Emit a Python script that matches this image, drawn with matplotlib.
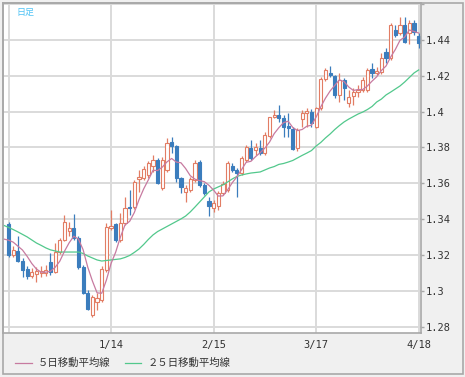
import numpy as np
import matplotlib
matplotlib.use("Agg")
import matplotlib.pyplot as plt
from matplotlib.lines import Line2D
from matplotlib.patches import Rectangle

plt.rcParams['font.family'] = ['DejaVu Sans', 'Noto Sans CJK JP']

# daily candles, oldest first
opens = [1.3374, 1.3202, 1.3224, 1.3169, 1.3124, 1.3085, 1.3096, 1.3102, 1.3102, 1.3163,
         1.3107, 1.3219, 1.3285, 1.3335, 1.3352, 1.3296, 1.3135, 1.2991, 1.2868, 1.2940,
         1.2952, 1.3118, 1.3352, 1.3374, 1.3285, 1.3380, 1.3470, 1.3468, 1.3624, 1.3630,
         1.3647, 1.3697, 1.3730, 1.3574, 1.3674, 1.3830, 1.3808, 1.3630, 1.3554, 1.3563,
         1.3619, 1.3719, 1.3591, 1.3502, 1.3463, 1.3476, 1.3547, 1.3563, 1.3697, 1.3674,
         1.3658, 1.3730, 1.3797, 1.3786, 1.3797, 1.3769, 1.3863, 1.3969, 1.3980, 1.3963,
         1.3919, 1.3902, 1.3797, 1.3958, 1.3993, 1.3997, 1.3913, 1.4019, 1.4180, 1.4215,
         1.4197, 1.4091, 1.4175, 1.4047, 1.4086, 1.4110, 1.4119, 1.4119, 1.4236, 1.4214,
         1.4219, 1.4331, 1.4297, 1.4453, 1.4436, 1.4481, 1.4436, 1.4492, 1.4420]
highs = [1.3385, 1.3252, 1.3307, 1.3185, 1.3141, 1.3130, 1.3135, 1.3141, 1.3146, 1.3213,
         1.3269, 1.3296, 1.3424, 1.3385, 1.3430, 1.3307, 1.3146, 1.3007, 1.2979, 1.2991,
         1.3141, 1.3380, 1.3452, 1.3380, 1.3435, 1.3524, 1.3563, 1.3619, 1.3674, 1.3697,
         1.3724, 1.3758, 1.3741, 1.3747, 1.3852, 1.3858, 1.3813, 1.3636, 1.3591, 1.3636,
         1.3730, 1.3730, 1.3602, 1.3524, 1.3508, 1.3558, 1.3613, 1.3724, 1.3713, 1.3686,
         1.3752, 1.3813, 1.3841, 1.3825, 1.3841, 1.3886, 1.3969, 1.4008, 1.4036, 1.3980,
         1.3991, 1.3913, 1.3908, 1.4008, 1.4019, 1.4014, 1.4025, 1.4191, 1.4241, 1.4253,
         1.4203, 1.4214, 1.4186, 1.4119, 1.4130, 1.4147, 1.4191, 1.4241, 1.4269, 1.4247,
         1.4325, 1.4353, 1.4492, 1.4481, 1.4525, 1.4525, 1.4508, 1.4508, 1.4436]
lows = [1.3191, 1.3191, 1.3163, 1.3080, 1.3069, 1.3074, 1.3052, 1.3080, 1.3085, 1.3091,
        1.3102, 1.3207, 1.3280, 1.3307, 1.3285, 1.3124, 1.2985, 1.2896, 1.2857, 1.2896,
        1.2940, 1.3107, 1.3341, 1.3274, 1.3274, 1.3369, 1.3424, 1.3457, 1.3552, 1.3619,
        1.3630, 1.3663, 1.3597, 1.3563, 1.3663, 1.3769, 1.3608, 1.3547, 1.3498, 1.3552,
        1.3608, 1.3580, 1.3535, 1.3419, 1.3441, 1.3452, 1.3535, 1.3552, 1.3663, 1.3524,
        1.3647, 1.3719, 1.3730, 1.3758, 1.3758, 1.3758, 1.3852, 1.3963, 1.3941, 1.3858,
        1.3858, 1.3786, 1.3780, 1.3913, 1.3913, 1.3913, 1.3908, 1.4008, 1.4169, 1.4191,
        1.4075, 1.4052, 1.4064, 1.4025, 1.4036, 1.4080, 1.4108, 1.4108, 1.4186, 1.4203,
        1.4208, 1.4269, 1.4286, 1.4414, 1.4425, 1.4381, 1.4375, 1.4425, 1.4353]
closes = [1.3202, 1.3230, 1.3169, 1.3118, 1.3085, 1.3107, 1.3113, 1.3113, 1.3118, 1.3107,
          1.3219, 1.3285, 1.3385, 1.3352, 1.3296, 1.3135, 1.2991, 1.2902, 1.2968, 1.2963,
          1.3124, 1.3358, 1.3363, 1.3285, 1.3380, 1.3463, 1.3461, 1.3608, 1.3636, 1.3680,
          1.3713, 1.3730, 1.3602, 1.3730, 1.3825, 1.3808, 1.3630, 1.3580, 1.3573, 1.3624,
          1.3713, 1.3591, 1.3547, 1.3474, 1.3491, 1.3545, 1.3597, 1.3713, 1.3674, 1.3658,
          1.3741, 1.3802, 1.3741, 1.3802, 1.3769, 1.3869, 1.3967, 1.3980, 1.3963, 1.3913,
          1.3908, 1.3791, 1.3897, 1.3991, 1.4004, 1.3936, 1.4019, 1.4180, 1.4230, 1.4203,
          1.4091, 1.4175, 1.4130, 1.4080, 1.4108, 1.4119, 1.4175, 1.4230, 1.4214, 1.4225,
          1.4297, 1.4297, 1.4481, 1.4425, 1.4481, 1.4386, 1.4492, 1.4442, 1.4381]

# moving averages as shown (first value is the day before the first candle)
ma5 = [1.3291, 1.3285, 1.3274, 1.3252, 1.3230, 1.3195, 1.3155, 1.3124, 1.3107, 1.3107,
       1.3112, 1.3134, 1.3168, 1.3223, 1.3270, 1.3307, 1.3291, 1.3232, 1.3135, 1.3058,
       1.2992, 1.2990, 1.3063, 1.3155, 1.3219, 1.3302, 1.3370, 1.3390, 1.3439, 1.3510,
       1.3570, 1.3620, 1.3673, 1.3672, 1.3691, 1.3720, 1.3739, 1.3719, 1.3715, 1.3683,
       1.3643, 1.3624, 1.3616, 1.3610, 1.3590, 1.3563, 1.3530, 1.3531, 1.3564, 1.3604,
       1.3637, 1.3677, 1.3718, 1.3723, 1.3749, 1.3771, 1.3797, 1.3830, 1.3877, 1.3910,
       1.3938, 1.3946, 1.3911, 1.3894, 1.3900, 1.3918, 1.3924, 1.3969, 1.4026, 1.4074,
       1.4114, 1.4145, 1.4176, 1.4166, 1.4136, 1.4117, 1.4122, 1.4122, 1.4142, 1.4169,
       1.4193, 1.4228, 1.4253, 1.4303, 1.4345, 1.4396, 1.4414, 1.4453, 1.4445, 1.4436]
ma25 = [1.3367, 1.3356, 1.3344, 1.3331, 1.3317, 1.3303, 1.3286, 1.3269, 1.3256, 1.3242,
        1.3231, 1.3225, 1.3219, 1.3219, 1.3219, 1.3219, 1.3219, 1.3211, 1.3197, 1.3186,
        1.3175, 1.3169, 1.3172, 1.3175, 1.3178, 1.3181, 1.3189, 1.3200, 1.3217, 1.3236,
        1.3261, 1.3289, 1.3314, 1.3333, 1.3347, 1.3361, 1.3375, 1.3389, 1.3403, 1.3419,
        1.3442, 1.3469, 1.3497, 1.3525, 1.3553, 1.3569, 1.3581, 1.3592, 1.3608, 1.3625,
        1.3639, 1.3647, 1.3653, 1.3658, 1.3661, 1.3664, 1.3675, 1.3686, 1.3694, 1.3706,
        1.3711, 1.3719, 1.3728, 1.3742, 1.3756, 1.3769, 1.3783, 1.3808, 1.3828, 1.3853,
        1.3875, 1.3900, 1.3922, 1.3942, 1.3958, 1.3972, 1.3986, 1.3997, 1.4011, 1.4028,
        1.4053, 1.4069, 1.4092, 1.4108, 1.4125, 1.4142, 1.4164, 1.4189, 1.4214, 1.4231]

date_ticks = [0, 22, 44, 66, 88]
date_labels = ['', '1/14', '2/15', '3/17', '4/18']
price_ticks = [1.28, 1.30, 1.32, 1.34, 1.36, 1.38, 1.40, 1.42, 1.44, 1.46]

UP = '#e27d64'
DOWN = '#3b7dbd'
W, H = 465, 377

fig = plt.figure(figsize=(W / 100, H / 100), dpi=100, facecolor='#f0f0f0')
ax = fig.add_axes([3.3 / W, (H - 333) / H, (421 - 3.3) / W, (333 - 3) / H])
ax.set_facecolor('white')

o = np.array(opens)
c = np.array(closes)
x = np.arange(len(o))
up = c >= o
col = np.where(up, UP, DOWN)

ax.vlines(x, lows, highs, colors=col, linewidth=0.9, zorder=2)
ax.bar(x, np.maximum(np.abs(c - o), 0.0002), bottom=np.minimum(o, c), width=0.68,
       facecolor=np.where(up, 'white', DOWN), edgecolor=col, linewidth=0.8, zorder=2.5)

xm = np.arange(-1, len(o))
ax.plot(xm, ma25, color='#52c88c', linewidth=0.9, zorder=3)
ax.plot(xm, ma5, color='#c77aa0', linewidth=0.9, zorder=3)

ax.set_xlim(-1.12, 88.5)
ax.set_ylim(1.2769, 1.4603)

ax.set_xticks(date_ticks)
ax.set_xticklabels(date_labels)
ax.set_yticks(price_ticks)
ax.set_yticklabels(['{:g}'.format(p) if p < 1.45 else '' for p in price_ticks])
ax.yaxis.tick_right()
ax.grid(True, color='#dadada', linewidth=1.4, zorder=0)
ax.set_axisbelow(True)
ax.tick_params(axis='y', length=2, width=1, color='#a8a8a8', pad=1.5,
               labelsize=7.5, labelcolor='#333333', labelfontfamily='DejaVu Sans Mono')
ax.tick_params(axis='x', length=0, pad=5, labelsize=7.5, labelcolor='#333333',
               labelfontfamily='DejaVu Sans Mono')
for s in ax.spines.values():
    s.set_color('#a8a8a8')
    s.set_linewidth(1.2)

# outer frame
fig.patches.append(Rectangle((2.5 / W, (H - 373.5) / H), 460 / W, 371 / H,
                             transform=fig.transFigure, fill=False,
                             edgecolor='#a8a8a8', linewidth=1.2))

fig.text(16 / W, 1 - 12.5 / H, '日足', color='#4ec3f5', fontsize=6.5,
         family=['Noto Sans CJK JP'], va='center', ha='left')

ly = 1 - 362.5 / H
fig.lines.append(Line2D([15 / W, 31.5 / W], [ly, ly], color='#c77aa0', linewidth=0.9,
                        transform=fig.transFigure))
fig.text(38 / W, ly, '５日移動平均線', fontsize=7.5, color='#333333',
         family=['Noto Sans CJK JP'], va='center', ha='left')
fig.lines.append(Line2D([125 / W, 141 / W], [ly, ly], color='#52c88c', linewidth=0.9,
                        transform=fig.transFigure))
fig.text(148 / W, ly, '２５日移動平均線', fontsize=7.5, color='#333333',
         family=['Noto Sans CJK JP'], va='center', ha='left')

fig.savefig('out.png', dpi=100, facecolor=fig.get_facecolor())
